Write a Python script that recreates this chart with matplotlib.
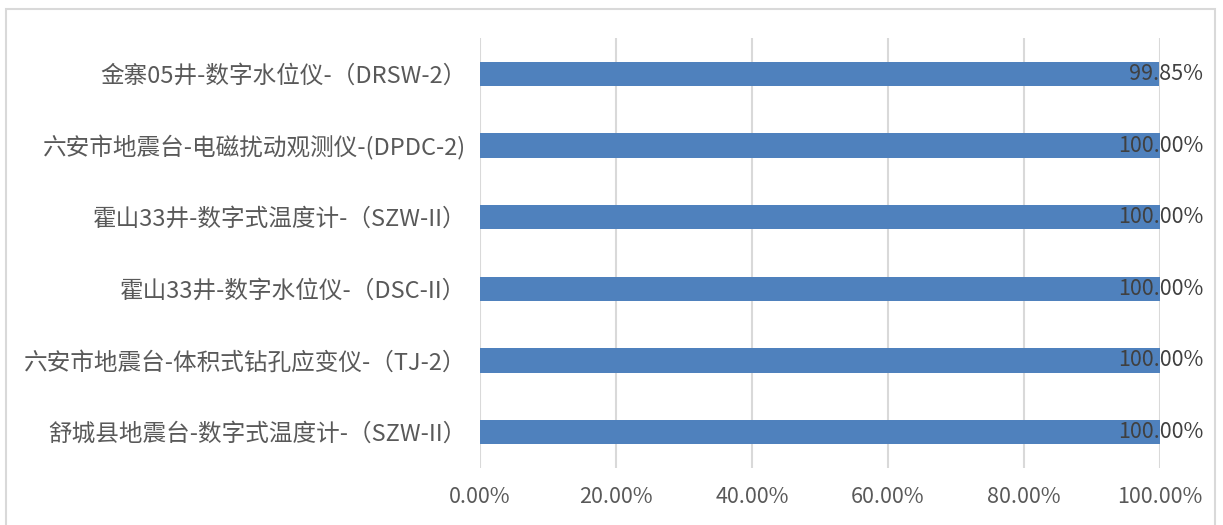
import matplotlib
matplotlib.use("Agg")
import matplotlib.pyplot as plt
from matplotlib.patches import Rectangle

# data, top to bottom as in the picture
stations = [
    "金寨05井-数字水位仪-（DRSW-2）",
    "六安市地震台-电磁扰动观测仪-(DPDC-2)",
    "霍山33井-数字式温度计-（SZW-II）",
    "霍山33井-数字水位仪-（DSC-II）",
    "六安市地震台-体积式钻孔应变仪-（TJ-2）",
    "舒城县地震台-数字式温度计-（SZW-II）",
]
rates = [99.85, 100.00, 100.00, 100.00, 100.00, 100.00]
x_ticks = [0, 20, 40, 60, 80, 100]

plt.rcParams['font.family'] = ['Noto Sans CJK SC', 'DejaVu Sans']

bar_color = '#4F81BD'
grid_color = '#D9D9D9'
text_color = '#595959'

fig = plt.figure(figsize=(12.23, 5.25), dpi=100, facecolor='white')
ax = fig.add_axes([480 / 1223, 1 - 468 / 525, 680 / 1223, 430 / 525])

pos = list(range(len(stations)))
ax.barh(pos, rates, height=0.34, color=bar_color, zorder=2)
ax.set_ylim(len(stations) - 0.5, -0.5)
ax.set_xlim(0, 100)

# value labels, right aligned a bit past the bar end
for p, v in zip(pos, rates):
    ax.annotate(f"{v:.2f}%", xy=(100, p), xytext=(43, 0), textcoords='offset pixels',
                ha='right', va='center', fontsize=15.5, color='#404040', zorder=3)

ax.set_yticks(pos)
ax.set_yticklabels(stations, fontsize=17, color=text_color)
ax.set_xticks(x_ticks)
ax.set_xticklabels([f"{t:.2f}%" for t in x_ticks], fontsize=15.5, color=text_color)
ax.tick_params(axis='y', length=0, pad=10)
ax.tick_params(axis='x', length=0, pad=13)

ax.grid(axis='x', color=grid_color, linewidth=1.5, zorder=0)
for s in ax.spines.values():
    s.set_visible(False)

# light frame around the chart
fig.patches.append(Rectangle((6 / 1223, -0.05), 1209 / 1223, 1.05 - 9 / 525,
                             transform=fig.transFigure, fill=False,
                             edgecolor=grid_color, linewidth=1.5))

fig.savefig('out.png', dpi=100, facecolor='white')
